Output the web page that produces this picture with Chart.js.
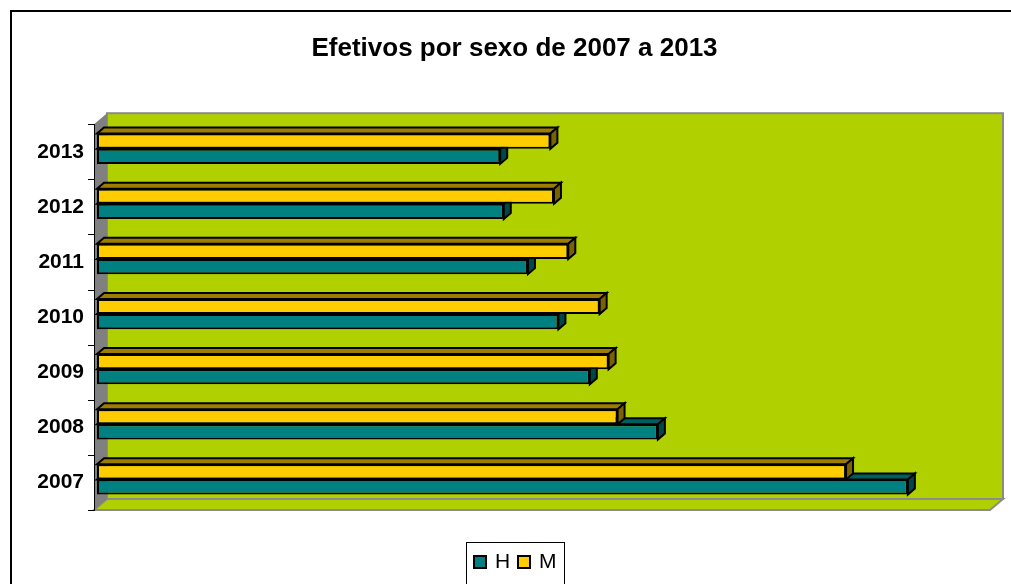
<!DOCTYPE html>
<html>
<head>
<meta charset="utf-8">
<title>Efetivos por sexo</title>
<script src="https://cdn.jsdelivr.net/npm/chart.js@4/dist/chart.umd.min.js"></script>
<style>
  html, body { margin: 0; padding: 0; background: #fff; }
  #wrap { width: 1011px; height: 584px; position: relative; overflow: hidden; }
</style>
</head>
<body>
<div id="wrap"><canvas id="chart" width="1011" height="584"></canvas></div>
<script>
// Anos (de cima para baixo) e efetivos por sexo
const anos = ['2013', '2012', '2011', '2010', '2009', '2008', '2007'];
const efetivosH = [450, 454, 481, 515, 550, 626, 905];
const efetivosM = [506, 510, 526, 561, 571, 581, 836];
const escalaMax = 1000;

const FONT = '"Liberation Sans", Arial, sans-serif';
const VERDE = '#b0d000';
const CINZA = '#8c8c8c';

// cores da face frontal, do topo e da lateral de cada serie
const corH = { front: '#008080', top: '#005e5e', side: '#004848' };
const corM = { front: '#ffcc00', top: '#9c7d00', side: '#7a6200' };

// profundidade das barras e das paredes
const BAR_DX = 7, BAR_DY = -6;
const WALL_DX = 13, WALL_DY = -11;

const efeito3d = {
  id: 'efeito3d',

  // paredes, chao e eixo das categorias
  beforeDatasetsDraw(chart) {
    const ctx = chart.ctx;
    const a = chart.chartArea;
    const fx = a.left - 3, fy = a.top + 3, fr = a.right - 3, fb = a.bottom + 3;
    ctx.save();

    // parede do fundo
    ctx.fillStyle = VERDE;
    ctx.fillRect(fx + WALL_DX, fy + WALL_DY, fr - fx, fb - fy);
    ctx.strokeStyle = CINZA;
    ctx.lineWidth = 2;
    ctx.strokeRect(fx + WALL_DX, fy + WALL_DY, fr - fx, fb - fy);

    // chao
    ctx.beginPath();
    ctx.moveTo(fx, fb);
    ctx.lineTo(fx + WALL_DX, fb + WALL_DY);
    ctx.lineTo(fr + WALL_DX, fb + WALL_DY);
    ctx.lineTo(fr, fb);
    ctx.closePath();
    ctx.fillStyle = VERDE;
    ctx.fill();
    ctx.stroke();

    // parede lateral
    ctx.beginPath();
    ctx.moveTo(fx, fy);
    ctx.lineTo(fx + WALL_DX, fy + WALL_DY);
    ctx.lineTo(fx + WALL_DX, fb + WALL_DY);
    ctx.lineTo(fx, fb);
    ctx.closePath();
    ctx.fillStyle = '#808080';
    ctx.fill();

    // eixo e marcas
    ctx.strokeStyle = '#000';
    ctx.lineWidth = 1;
    ctx.beginPath();
    ctx.moveTo(fx + 0.5, fy);
    ctx.lineTo(fx + 0.5, fb);
    const n = anos.length;
    for (let k = 0; k <= n; k++) {
      const y = Math.round(fy + k * (fb - fy) / n) + 0.5;
      ctx.moveTo(fx - 6, y);
      ctx.lineTo(fx + 1, y);
    }
    ctx.stroke();
    ctx.restore();
  },

  // topo e lateral de cada barra, antes da face frontal
  beforeDatasetDraw(chart, args) {
    const ctx = chart.ctx;
    const cor = chart.data.datasets[args.index].cores3d;
    ctx.save();
    ctx.strokeStyle = '#000';
    ctx.lineWidth = 2;
    ctx.lineJoin = 'miter';
    args.meta.data.forEach(bar => {
      const p = bar.getProps(['x', 'y', 'base', 'height'], true);
      const left = p.base, right = p.x;
      const top = p.y - p.height / 2, bottom = p.y + p.height / 2;

      ctx.beginPath();
      ctx.moveTo(left, top);
      ctx.lineTo(left + BAR_DX, top + BAR_DY);
      ctx.lineTo(right + BAR_DX, top + BAR_DY);
      ctx.lineTo(right, top);
      ctx.closePath();
      ctx.fillStyle = cor.top;
      ctx.fill();
      ctx.stroke();

      ctx.beginPath();
      ctx.moveTo(right, top);
      ctx.lineTo(right + BAR_DX, top + BAR_DY);
      ctx.lineTo(right + BAR_DX, bottom + BAR_DY);
      ctx.lineTo(right, bottom);
      ctx.closePath();
      ctx.fillStyle = cor.side;
      ctx.fill();
      ctx.stroke();
    });
    ctx.restore();
  },

  // legenda em caixa e moldura do grafico
  afterDraw(chart) {
    const ctx = chart.ctx;
    ctx.save();

    ctx.strokeStyle = '#000';
    ctx.lineWidth = 2;
    ctx.strokeRect(11, 11, 1100, 1000);

    ctx.lineWidth = 1;
    ctx.strokeRect(466.5, 542.5, 98, 60);

    ctx.font = '21px ' + FONT;
    ctx.textBaseline = 'middle';
    ctx.textAlign = 'left';
    let x = 474;
    const y = 556;
    chart.data.datasets.slice().reverse().forEach(ds => {
      ctx.fillStyle = ds.backgroundColor;
      ctx.fillRect(x, y, 12, 12);
      ctx.lineWidth = 2;
      ctx.strokeRect(x, y, 12, 12);
      ctx.fillStyle = '#000';
      ctx.fillText(ds.label, x + 21, y + 6);
      x += 44;
    });
    ctx.restore();
  }
};

const datasets = [
  { label: 'M', data: efetivosM, backgroundColor: corM.front, cores3d: corM },
  { label: 'H', data: efetivosH, backgroundColor: corH.front, cores3d: corH }
].map(ds => Object.assign(ds, {
  borderColor: '#000',
  borderWidth: 2,
  borderSkipped: false,
  barPercentage: 1,
  categoryPercentage: 0.55
}));

new Chart(document.getElementById('chart'), {
  type: 'bar',
  data: { labels: anos, datasets: datasets },
  plugins: [efeito3d],
  options: {
    indexAxis: 'y',
    responsive: false,
    animation: false,
    devicePixelRatio: 1,
    layout: { padding: { left: 36, top: 0, right: 18, bottom: 77 } },
    plugins: {
      legend: { display: false },
      tooltip: { enabled: false },
      title: {
        display: true,
        text: 'Efetivos por sexo de 2007 a 2013',
        color: '#000',
        font: { family: FONT, size: 26, weight: 'bold', lineHeight: 1.2 },
        padding: { top: 33, bottom: 57 }
      }
    },
    scales: {
      x: { display: false, min: 0, max: escalaMax },
      y: {
        grid: { display: false, drawTicks: false },
        border: { display: false },
        ticks: {
          color: '#000',
          padding: 13,
          labelOffset: 3,
          font: { family: FONT, size: 21, weight: 'bold' }
        },
        afterFit(axis) { axis.width = 61; }
      }
    }
  }
});
</script>
</body>
</html>
